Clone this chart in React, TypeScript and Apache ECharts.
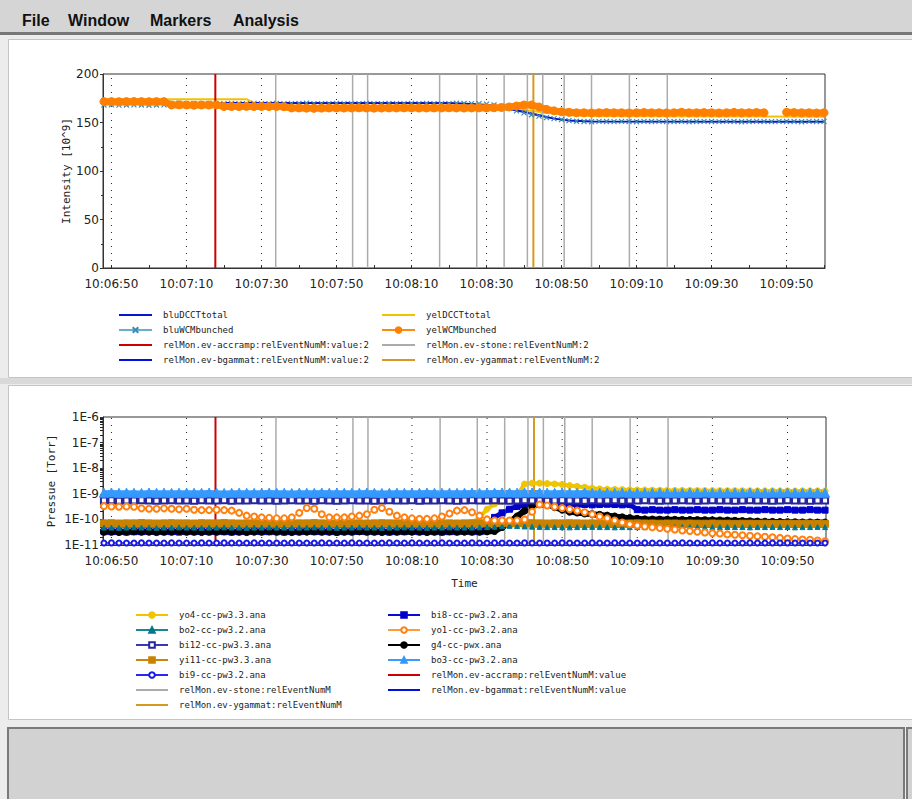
import React, { useEffect, useRef } from 'react';
import * as echarts from 'echarts';

// Time axis: seconds of day (10:06:48 = 36408)
const X_MIN = 36407.75;
const X_MAX = 36600.25;
const T_START = 36408; // first sample, 10:06:48
const T_STEP = 2; // sample spacing in seconds

const labelTimes = [36410, 36430, 36450, 36470, 36490, 36510, 36530, 36550, 36570, 36590];
const tickTimes = [36410, 36420, 36430, 36440, 36450, 36460, 36470, 36480, 36490, 36500,
  36510, 36520, 36530, 36540, 36550, 36560, 36570, 36580, 36590, 36600];

// ---------------- Intensity chart ----------------
const yelWCMbunched: (number | null)[] = [
  171.5, 171.5, 171.4, 171.5, 171.6, 171.5, 171.4, 171.5, 171.5,
  168, 168.2, 168, 167.8, 168, 168, 168.1,
  166.5, 166.5, 166.4, 166.6, 166.5, 166.5, 166.4, 166.5, 166.3,
  165, 165, 164.8, 164.6, 164.8, 165, 165, 164.9, 165, 165.1,
  165, 164.8, 164.9, 165, 165, 165.1, 165, 164.9, 165, 165,
  165, 165.2, 165, 164.9, 165, 165.1, 165, 165.2,
  165.5, 166, 167, 168, 168, 166, 163.5, 162, 161,
  160.5, 160, 160, 159.8, 160, 160.2, 160, 160, 159.8, 160,
  160.3, 160, 160, 159.9, 160, 160.5, 160, 160, 160.2, 160,
  159.8, 160, 160.4, 160, 160, 160.3, 160,
  null, null,
  160.5, 160.2, 160, 160, 159.8, 160,
];

const bluWCMbunched = [
  168, 168.2, 167.9, 168, 168.1, 168, 167.8, 168, 168.2,
  169.5, 169.8, 169.4, 169.6, 169.5, 169.7, 169.3, 169.5, 169.6, 169.4,
  169.5, 169.7, 169.5, 169.3, 169.6, 169.5, 169.4, 169.6, 169.8, 169.5,
  169.4, 169.5, 169.6, 169.5, 169.3, 169.5, 169.7, 169.5, 169.4, 169.6,
  169.5, 169.5, 169.7, 169.4, 169.6, 169.5, 169.3, 169.5, 169.8, 169.6,
  169.4, 169.5,
  169, 168, 166.5, 164.5, 162, 160, 158, 156.5, 155, 154, 153, 152,
  151.3, 151, 150.8, 151.2, 151, 150.9, 151.1, 151, 150.8, 151.2,
  151, 151.1, 150.9, 151, 151.2, 150.8, 151, 151.1, 151, 150.9,
  151.2, 151, 150.8, 151, 151.1, 151, 150.9, 151.2, 151, 151,
  150.8, 151.1, 151, 151.2,
];

const bluDCCTtimes = [36408, 36500, 36506, 36512, 36516, 36520, 36524, 36528, 36532, 36538, 36600];
const bluDCCTvalues = [170, 170, 169, 167, 164, 161, 157.5, 154, 152, 151, 150.8];

const yelDCCTtimes = [36408, 36446, 36450, 36500, 36514, 36520, 36526, 36532, 36540, 36600];
const yelDCCTvalues = [174, 174, 166, 165, 165, 163, 160, 157.5, 156.5, 156];

// event markers (seconds of day)
const accrampTimes = [36437.7];
const bgammatTimes: number[] = [];
const stoneTimes = [36453.8, 36474.3, 36478.3, 36497.5, 36507.4, 36514.7, 36520.9, 36525.0, 36530.7, 36538.0, 36548.1, 36558.2];
const ygammatTimes = [36522.5];

// ---------------- Pressure chart (Torr) ----------------
const bo3 = [
  1.1e-9, 1.12e-9, 1.09e-9, 1.11e-9, 1.1e-9, 1.08e-9, 1.12e-9, 1.1e-9, 1.11e-9, 1.09e-9,
  1.1e-9, 1.11e-9, 1.1e-9, 1.09e-9, 1.12e-9, 1.1e-9, 1.08e-9, 1.1e-9, 1.11e-9, 1.1e-9,
  1.09e-9, 1.1e-9, 1.12e-9, 1.1e-9, 1.1e-9, 1.08e-9, 1.11e-9, 1.1e-9, 1.09e-9, 1.12e-9,
  1.1e-9, 1.1e-9, 1.11e-9, 1.09e-9, 1.1e-9, 1.12e-9, 1.1e-9, 1.08e-9, 1.1e-9, 1.11e-9,
  1.1e-9, 1.09e-9, 1.1e-9, 1.12e-9, 1.1e-9, 1.1e-9, 1.11e-9, 1.09e-9, 1.1e-9, 1.12e-9,
  1.1e-9, 1.11e-9, 1.12e-9, 1.13e-9, 1.12e-9, 1.11e-9, 1.12e-9, 1.13e-9, 1.12e-9, 1.11e-9,
  1.1e-9, 1.12e-9, 1.11e-9, 1.1e-9, 1.12e-9, 1.1e-9, 1.09e-9, 1.11e-9, 1.1e-9, 1.12e-9,
  1.1e-9, 1.09e-9, 1.11e-9, 1.1e-9, 1.12e-9, 1.1e-9, 1.1e-9, 1.09e-9, 1.11e-9, 1.1e-9,
  1.12e-9, 1.1e-9, 1.09e-9, 1.1e-9, 1.11e-9, 1.1e-9, 1.12e-9, 1.1e-9, 1.09e-9, 1.11e-9,
  1.1e-9, 1.12e-9, 1.1e-9, 1.1e-9, 1.11e-9, 1.09e-9, 1.1e-9,
];

const bi12 = [
  5.5e-10, 5.6e-10, 5.4e-10, 5.5e-10, 5.5e-10, 5.6e-10, 5.5e-10, 5.4e-10, 5.5e-10, 5.6e-10,
  5.5e-10, 5.5e-10, 5.4e-10, 5.6e-10, 5.5e-10, 5.5e-10, 5.6e-10, 5.4e-10, 5.5e-10, 5.5e-10,
  5.6e-10, 5.5e-10, 5.5e-10, 5.4e-10, 5.5e-10, 5.6e-10, 5.5e-10, 5.5e-10, 5.4e-10, 5.6e-10,
  5.5e-10, 5.4e-10, 5.5e-10, 5.6e-10, 5.5e-10, 5.5e-10, 5.4e-10, 5.5e-10, 5.6e-10, 5.5e-10,
  5.5e-10, 5.6e-10, 5.4e-10, 5.5e-10, 5.5e-10, 5.6e-10, 5.5e-10, 5.4e-10, 5.5e-10, 5.6e-10,
  5.5e-10, 5.5e-10, 5.6e-10, 5.5e-10, 5.4e-10, 5.5e-10, 5.6e-10, 5.5e-10, 5.5e-10, 5.4e-10,
  5.5e-10, 5.6e-10, 5.5e-10, 5.5e-10, 5.4e-10, 5.6e-10, 5.5e-10, 5.5e-10, 5.6e-10, 5.4e-10,
  5.5e-10, 5.5e-10, 5.6e-10, 5.5e-10, 5.4e-10, 5.5e-10, 5.5e-10, 5.6e-10, 5.5e-10, 5.4e-10,
  5.5e-10, 5.6e-10, 5.5e-10, 5.5e-10, 5.4e-10, 5.5e-10, 5.6e-10, 5.5e-10, 5.5e-10, 5.4e-10,
  5.5e-10, 5.6e-10, 5.5e-10, 5.5e-10, 5.4e-10, 5.5e-10, 5.5e-10,
];

const yi11 = [
  7.0e-11, 7.1e-11, 6.9e-11, 7.0e-11, 7.0e-11, 7.2e-11, 7.0e-11, 6.9e-11, 7.0e-11, 7.1e-11,
  7.0e-11, 7.0e-11, 6.9e-11, 7.1e-11, 7.0e-11, 7.0e-11, 7.2e-11, 7.0e-11, 6.9e-11, 7.0e-11,
  7.1e-11, 7.0e-11, 7.0e-11, 6.9e-11, 7.0e-11, 7.1e-11, 7.0e-11, 7.0e-11, 7.2e-11, 7.0e-11,
  6.9e-11, 7.0e-11, 7.1e-11, 7.0e-11, 7.0e-11, 6.9e-11, 7.0e-11, 7.1e-11, 7.0e-11, 7.0e-11,
  7.2e-11, 7.0e-11, 6.9e-11, 7.0e-11, 7.1e-11, 7.0e-11, 7.0e-11, 6.9e-11, 7.0e-11, 7.1e-11,
  7.0e-11, 7.0e-11, 7.1e-11, 7.0e-11, 6.9e-11, 7.0e-11, 7.0e-11, 7.1e-11, 7.0e-11, 6.9e-11,
  7.0e-11, 7.0e-11, 7.1e-11, 7.0e-11, 6.9e-11, 7.0e-11, 7.0e-11, 6.9e-11, 7.0e-11, 6.9e-11,
  6.9e-11, 7.0e-11, 6.9e-11, 6.9e-11, 6.8e-11, 6.9e-11, 6.9e-11, 6.8e-11, 6.9e-11, 6.8e-11,
  6.8e-11, 6.9e-11, 6.8e-11, 6.8e-11, 6.7e-11, 6.8e-11, 6.8e-11, 6.7e-11, 6.8e-11, 6.7e-11,
  6.7e-11, 6.8e-11, 6.7e-11, 6.7e-11, 6.7e-11, 6.6e-11, 6.7e-11,
];

const bo2 = [
  4.8e-11, 4.8e-11, 4.7e-11, 4.8e-11, 4.9e-11, 4.8e-11, 4.8e-11, 4.7e-11, 4.8e-11, 4.8e-11,
  4.9e-11, 4.8e-11, 4.8e-11, 4.7e-11, 4.8e-11, 4.8e-11, 4.9e-11, 4.8e-11, 4.8e-11, 4.7e-11,
  4.8e-11, 4.8e-11, 4.9e-11, 4.8e-11, 4.8e-11, 4.7e-11, 4.8e-11, 4.8e-11, 4.9e-11, 4.8e-11,
  4.8e-11, 4.7e-11, 4.8e-11, 4.8e-11, 4.9e-11, 4.8e-11, 4.8e-11, 4.7e-11, 4.8e-11, 4.8e-11,
  4.9e-11, 4.8e-11, 4.8e-11, 4.7e-11, 4.8e-11, 4.8e-11, 4.9e-11, 4.8e-11, 4.8e-11, 4.8e-11,
  4.9e-11, 5.0e-11, 5.2e-11, 5.4e-11, 5.6e-11, 5.5e-11, 5.3e-11, 5.2e-11, 5.1e-11, 5.0e-11,
  5.0e-11, 5.0e-11, 4.9e-11, 5.0e-11, 5.0e-11, 5.1e-11, 5.0e-11, 5.0e-11, 4.9e-11, 5.0e-11,
  5.0e-11, 5.1e-11, 5.0e-11, 5.0e-11, 4.9e-11, 5.0e-11, 5.0e-11, 5.1e-11, 5.0e-11, 5.0e-11,
  4.9e-11, 5.0e-11, 5.0e-11, 5.1e-11, 5.0e-11, 5.0e-11, 4.9e-11, 5.0e-11, 5.0e-11, 5.1e-11,
  5.0e-11, 5.0e-11, 4.9e-11, 5.0e-11, 5.0e-11, 5.1e-11, 5.0e-11,
];

const bi9 = [
  1.2e-11, 1.21e-11, 1.19e-11, 1.2e-11, 1.2e-11, 1.21e-11, 1.2e-11, 1.19e-11, 1.2e-11, 1.21e-11,
  1.2e-11, 1.2e-11, 1.19e-11, 1.21e-11, 1.2e-11, 1.2e-11, 1.21e-11, 1.2e-11, 1.19e-11, 1.2e-11,
  1.21e-11, 1.2e-11, 1.2e-11, 1.19e-11, 1.2e-11, 1.21e-11, 1.2e-11, 1.2e-11, 1.19e-11, 1.21e-11,
  1.2e-11, 1.19e-11, 1.2e-11, 1.21e-11, 1.2e-11, 1.2e-11, 1.19e-11, 1.2e-11, 1.21e-11, 1.2e-11,
  1.2e-11, 1.21e-11, 1.19e-11, 1.2e-11, 1.2e-11, 1.21e-11, 1.2e-11, 1.19e-11, 1.2e-11, 1.21e-11,
  1.2e-11, 1.2e-11, 1.21e-11, 1.2e-11, 1.19e-11, 1.2e-11, 1.21e-11, 1.2e-11, 1.2e-11, 1.19e-11,
  1.2e-11, 1.21e-11, 1.2e-11, 1.2e-11, 1.19e-11, 1.21e-11, 1.2e-11, 1.2e-11, 1.21e-11, 1.19e-11,
  1.2e-11, 1.2e-11, 1.21e-11, 1.2e-11, 1.19e-11, 1.2e-11, 1.2e-11, 1.21e-11, 1.2e-11, 1.19e-11,
  1.2e-11, 1.21e-11, 1.2e-11, 1.2e-11, 1.19e-11, 1.2e-11, 1.21e-11, 1.2e-11, 1.2e-11, 1.19e-11,
  1.2e-11, 1.21e-11, 1.2e-11, 1.2e-11, 1.19e-11, 1.2e-11, 1.2e-11,
];

const g4 = [
  3.3e-11, 3.3e-11, 3.2e-11, 3.3e-11, 3.4e-11, 3.3e-11, 3.3e-11, 3.2e-11, 3.3e-11, 3.3e-11,
  3.4e-11, 3.3e-11, 3.3e-11, 3.2e-11, 3.3e-11, 3.3e-11, 3.4e-11, 3.3e-11, 3.3e-11, 3.2e-11,
  3.3e-11, 3.3e-11, 3.4e-11, 3.3e-11, 3.3e-11, 3.2e-11, 3.3e-11, 3.3e-11, 3.4e-11, 3.3e-11,
  3.3e-11, 3.2e-11, 3.3e-11, 3.3e-11, 3.4e-11, 3.3e-11, 3.3e-11, 3.2e-11, 3.3e-11, 3.3e-11,
  3.4e-11, 3.3e-11, 3.3e-11, 3.2e-11, 3.3e-11, 3.3e-11, 3.4e-11, 3.3e-11, 3.3e-11, 3.3e-11,
  3.3e-11, 3.4e-11,
  3.5e-11, 5e-11, 8e-11, 1.3e-10, 2.2e-10, 3.6e-10, 5.5e-10,
  4.0e-10, 3.0e-10, 2.4e-10, 2.0e-10, 1.85e-10, 1.7e-10, 1.6e-10, 1.5e-10, 1.4e-10, 1.3e-10,
  1.2e-10, 1.12e-10, 1.05e-10,
  1.0e-10, 9.9e-11, 9.8e-11, 9.7e-11, 9.6e-11, 9.5e-11, 9.5e-11, 9.4e-11, 9.3e-11, 9.2e-11,
  9.1e-11, 9.0e-11,
  8.8e-11, 8.6e-11, 8.4e-11, 8.2e-11, 8.1e-11, 8.0e-11, 7.9e-11, 7.8e-11, 7.7e-11, 7.6e-11,
  7.6e-11, 7.5e-11, 7.5e-11,
];

const bi8 = [
  3.3e-11, 3.3e-11, 3.3e-11, 3.2e-11, 3.3e-11, 3.3e-11, 3.4e-11, 3.3e-11, 3.3e-11, 3.3e-11,
  3.2e-11, 3.3e-11, 3.3e-11, 3.4e-11, 3.3e-11, 3.3e-11, 3.3e-11, 3.2e-11, 3.3e-11, 3.3e-11,
  3.4e-11, 3.3e-11, 3.3e-11, 3.3e-11, 3.2e-11, 3.3e-11, 3.3e-11, 3.4e-11, 3.3e-11, 3.3e-11,
  3.3e-11, 3.2e-11, 3.3e-11, 3.3e-11, 3.4e-11, 3.3e-11, 3.3e-11, 3.3e-11, 3.2e-11, 3.3e-11,
  3.3e-11, 3.4e-11, 3.3e-11, 3.3e-11, 3.3e-11, 3.2e-11, 3.3e-11, 3.3e-11, 3.4e-11, 3.3e-11,
  3.3e-11,
  6e-11, 1.2e-10, 1.8e-10, 2.5e-10, 3.2e-10, 3.8e-10,
  3.8e-10, 3.9e-10, 3.8e-10, 3.7e-10, 3.8e-10, 3.9e-10, 3.8e-10, 3.8e-10, 3.7e-10, 3.8e-10,
  3.9e-10, 3.8e-10, 3.7e-10, 3.8e-10,
  2.4e-10, 2.3e-10, 2.4e-10, 2.3e-10, 2.3e-10, 2.4e-10, 2.3e-10, 2.3e-10, 2.4e-10, 2.3e-10,
  2.3e-10, 2.4e-10, 2.3e-10, 2.3e-10, 2.4e-10, 2.3e-10, 2.3e-10, 2.4e-10, 2.3e-10, 2.3e-10,
  2.4e-10, 2.3e-10, 2.3e-10, 2.4e-10, 2.3e-10, 2.3e-10,
];

const yo4 = [
  7e-11, 7e-11, 7e-11, 7.1e-11, 7e-11, 7e-11, 6.9e-11, 7e-11, 7e-11, 7.1e-11,
  7e-11, 7e-11, 6.9e-11, 7e-11, 7e-11, 7.1e-11, 7e-11, 7e-11, 6.9e-11, 7e-11,
  7e-11, 7.1e-11, 7e-11, 7e-11, 6.9e-11, 7e-11, 7e-11, 7.1e-11, 7e-11, 7e-11,
  6.9e-11, 7e-11, 7e-11, 7.1e-11, 7e-11, 7e-11, 6.9e-11, 7e-11, 7e-11, 7.1e-11,
  7e-11, 7e-11, 6.9e-11, 7e-11, 7e-11, 7.1e-11, 7e-11, 7e-11, 6.9e-11, 7e-11,
  1.2e-10, 2.5e-10, 4e-10, 5e-10, 6e-10, 9e-10,
  2.4e-9, 2.6e-9, 2.6e-9, 2.5e-9, 2.4e-9, 2.3e-9, 2.1e-9, 1.95e-9, 1.8e-9, 1.65e-9,
  1.55e-9, 1.5e-9, 1.48e-9, 1.45e-9, 1.43e-9, 1.4e-9, 1.4e-9, 1.38e-9, 1.37e-9, 1.36e-9,
  1.35e-9, 1.35e-9, 1.34e-9, 1.34e-9, 1.33e-9, 1.33e-9, 1.32e-9, 1.32e-9, 1.32e-9, 1.31e-9,
  1.31e-9, 1.3e-9, 1.3e-9, 1.3e-9, 1.3e-9, 1.3e-9, 1.29e-9, 1.3e-9, 1.3e-9, 1.3e-9,
  1.3e-9,
];

const yo1 = [
  3.3e-10, 3.2e-10, 3.1e-10, 3.2e-10, 3.1e-10,
  2.7e-10, 2.6e-10, 2.6e-10, 2.7e-10, 2.6e-10, 2.5e-10, 2.6e-10,
  2.4e-10, 2.3e-10, 2.3e-10, 2.4e-10, 2.3e-10, 2.2e-10,
  1.8e-10, 1.4e-10, 1.3e-10,
  1.2e-10, 1.15e-10, 1.1e-10, 1.1e-10, 1.2e-10,
  1.8e-10, 2.8e-10, 2.6e-10, 1.6e-10, 1.2e-10,
  1.2e-10, 1.2e-10, 1.3e-10, 1.4e-10, 1.6e-10,
  2.4e-10, 2.8e-10, 2.0e-10, 1.4e-10, 1.2e-10,
  1.1e-10, 1.05e-10, 1.05e-10, 1.1e-10, 1.3e-10,
  1.7e-10, 2.2e-10, 2.3e-10, 1.9e-10, 1.4e-10,
  1.0e-10, 9e-11, 9e-11, 9e-11, 9e-11, 1.0e-10,
  2.0e-10, 3.8e-10, 3.5e-10, 3.1e-10, 2.8e-10, 2.5e-10, 2.2e-10, 1.9e-10, 1.6e-10, 1.3e-10,
  1.1e-10, 9e-11, 7.5e-11, 6.5e-11, 5.8e-11, 5.3e-11, 4.9e-11, 4.6e-11, 4.3e-11, 4.0e-11,
  3.7e-11, 3.5e-11, 3.3e-11, 3.1e-11, 2.9e-11, 2.8e-11, 2.6e-11, 2.5e-11, 2.4e-11, 2.3e-11,
  2.2e-11, 2.1e-11, 2.0e-11, 1.9e-11, 1.8e-11, 1.7e-11, 1.65e-11, 1.6e-11, 1.5e-11, 1.4e-11,
];

const MONO = '"DejaVu Sans Mono", monospace';
const SANS = '"DejaVu Sans", sans-serif';

const pad = (n: number) => (n < 10 ? '0' + n : '' + n);
const fmtTime = (v: number) => {
  const s = Math.round(v);
  return `${Math.floor(s / 3600)}:${pad(Math.floor((s % 3600) / 60))}:${pad(s % 60)}`;
};
const sampled = (vals: (number | null)[]) => vals.map((v, i) => [T_START + i * T_STEP, v]);
const paired = (ts: number[], vs: number[]) => ts.map((t, i) => [t, vs[i]]);
const vlines = (ts: number[], lo: number, hi: number) =>
  ts.flatMap((t) => [[t, lo], [t, hi], [t, null]]);

// legend entries drawn as a plain line (no symbol)
const lineOnly = (name: string) => ({ name, itemStyle: { opacity: 0 } });

export default function App() {
  const ref = useRef<HTMLDivElement>(null);
  useEffect(() => {
    if (!ref.current) return;
    const chart = echarts.init(ref.current, undefined, { renderer: 'svg' });

    const xAxisBase = (gridIndex: number, name?: string) => ({
      type: 'value',
      gridIndex,
      min: X_MIN,
      max: X_MAX,
      name: name || '',
      nameLocation: 'middle',
      nameGap: 33,
      nameMoveOverlap: false,
      nameTextStyle: { fontFamily: MONO, fontSize: 11, color: '#222' },
      axisLine: { show: true, lineStyle: { color: '#333' } },
      axisTick: { show: true, inside: true, length: 3, customValues: tickTimes, lineStyle: { color: '#333' } },
      axisLabel: { customValues: labelTimes, formatter: fmtTime, fontFamily: SANS, fontSize: 12, color: '#222', margin: 10 },
      splitLine: { show: false },
    });

    const line = (name: string, data: any[], xi: number, opt: any) => ({
      type: 'line',
      name,
      data,
      xAxisIndex: xi,
      yAxisIndex: xi,
      silent: true,
      animation: false,
      emphasis: { disabled: true },
      connectNulls: false,
      symbol: opt.symbol || 'none',
      symbolSize: opt.size || 6,
      showSymbol: !!opt.symbol,
      lineStyle: { color: opt.lineColor || opt.color, width: opt.width || 1.5, type: opt.dash || 'solid' },
      itemStyle: {
        color: opt.color,
        borderColor: opt.color,
        borderWidth: opt.borderWidth ?? 1,
      },
    });

    const dotted = (xi: number, lo: number, hi: number) => ({
      type: 'line',
      name: '__grid' + xi,
      data: vlines(labelTimes, lo, hi),
      xAxisIndex: xi,
      yAxisIndex: xi,
      silent: true,
      symbol: 'none',
      showSymbol: false,
      lineStyle: { color: '#222', width: 1, type: [1, 6] },
    });

    const markerSeries = (suffix: string, xi: number, lo: number, hi: number) => [
      line('relMon.ev-stone:relEventNumM' + suffix, vlines(stoneTimes, lo, hi), xi, { color: '#ababab', width: 1.5 }),
      line('relMon.ev-accramp:relEventNumM' + (suffix ? ':value' + suffix : ':value'), vlines(accrampTimes, lo, hi), xi, { color: '#cc0000', width: 2 }),
      line('relMon.ev-ygammat:relEventNumM' + suffix, vlines(ygammatTimes, lo, hi), xi, { color: '#d49a1e', width: 2 }),
      line('relMon.ev-bgammat:relEventNumM' + (suffix ? ':value' + suffix : ':value'), vlines(bgammatTimes, lo, hi), xi, { color: '#0010e0', width: 2 }),
    ];

    const legendBase = {
      orient: 'vertical',
      itemHeight: 7,
      itemGap: 5,
      padding: 0,
      selectedMode: false,
      textStyle: { fontFamily: MONO, fontSize: 9, color: '#222', lineHeight: 10, padding: [0, 0, 0, 6] },
      lineStyle: { width: 2 },
    };

    const menuText = (text: string, x: number) => ({
      type: 'text',
      z: -50,
      silent: true,
      style: { text, x, y: 20, fill: '#111', fontFamily: '"Liberation Sans", Arial, sans-serif', fontWeight: 'bold', fontSize: 16, verticalAlign: 'middle' },
    });

    const option: any = {
      animation: false,
      graphic: [
        { type: 'rect', z: -100, silent: true, shape: { x: 0, y: 0, width: 912, height: 799 }, style: { fill: '#ececec' } },
        { type: 'rect', z: -99, silent: true, shape: { x: 0, y: 0, width: 912, height: 32 }, style: { fill: '#d5d5d5' } },
        { type: 'rect', z: -99, silent: true, shape: { x: 0, y: 32, width: 912, height: 3 }, style: { fill: '#777777' } },
        { type: 'rect', z: -99, silent: true, shape: { x: 8.5, y: 39.5, width: 905, height: 338 }, style: { fill: '#ffffff', stroke: '#c4c4c4', lineWidth: 1 } },
        { type: 'rect', z: -99, silent: true, shape: { x: 0, y: 378, width: 912, height: 6 }, style: { fill: '#d9d9d9' } },
        { type: 'rect', z: -99, silent: true, shape: { x: 8.5, y: 385.5, width: 905, height: 334 }, style: { fill: '#ffffff', stroke: '#c4c4c4', lineWidth: 1 } },
        { type: 'rect', z: -99, silent: true, shape: { x: 8, y: 728, width: 896, height: 80 }, style: { fill: '#d2d2d2', stroke: '#7a7a7a', lineWidth: 2 } },
        { type: 'rect', z: -99, silent: true, shape: { x: 907, y: 728, width: 12, height: 80 }, style: { fill: '#d2d2d2', stroke: '#7a7a7a', lineWidth: 2 } },
        menuText('File', 22),
        menuText('Window', 68),
        menuText('Markers', 150),
        menuText('Analysis', 233),
      ],
      grid: [
        { left: 103, top: 74, width: 722, height: 194, show: true, borderColor: '#333', borderWidth: 1, backgroundColor: 'transparent' },
        { left: 103, top: 417, width: 723, height: 128, show: true, borderColor: '#333', borderWidth: 1, backgroundColor: 'transparent' },
      ],
      xAxis: [xAxisBase(0), xAxisBase(1, 'Time')],
      yAxis: [
        {
          type: 'value', gridIndex: 0, min: 0, max: 200, interval: 50,
          name: 'Intensity [10^9]', nameLocation: 'middle', nameGap: 31, nameMoveOverlap: false,
          nameTextStyle: { fontFamily: MONO, fontSize: 11, color: '#222' },
          axisLine: { show: true, lineStyle: { color: '#333' } },
          axisTick: { show: true, length: 3, lineStyle: { color: '#333' } },
          minorTick: { show: true, splitNumber: 2, length: 2, lineStyle: { color: '#333' } },
          axisLabel: { fontFamily: SANS, fontSize: 12, color: '#222', margin: 4 },
          splitLine: { show: false },
        },
        {
          type: 'log', logBase: 10, gridIndex: 1, min: 1e-11, max: 1e-6,
          name: 'Pressue [Torr]', nameLocation: 'middle', nameGap: 46, nameMoveOverlap: false,
          nameTextStyle: { fontFamily: MONO, fontSize: 11, color: '#222' },
          axisLine: { show: true, lineStyle: { color: '#333' } },
          axisTick: { show: true, length: 3, lineStyle: { color: '#333' } },
          minorTick: { show: true, splitNumber: 9, length: 3, lineStyle: { color: '#222' } },
          axisLabel: { fontFamily: SANS, fontSize: 12, color: '#222', margin: 4, formatter: (v: number) => '1E' + Math.round(Math.log10(v)) },
          splitLine: { show: false },
        },
      ],
      legend: [
        { ...legendBase, left: 118, top: 310, itemWidth: 33, data: [lineOnly('bluDCCTtotal'), 'bluWCMbunched', lineOnly('relMon.ev-accramp:relEventNumM:value:2'), lineOnly('relMon.ev-bgammat:relEventNumM:value:2')] },
        { ...legendBase, left: 381, top: 310, itemWidth: 33, data: [lineOnly('yelDCCTtotal'), 'yelWCMbunched', lineOnly('relMon.ev-stone:relEventNumM:2'), lineOnly('relMon.ev-ygammat:relEventNumM:2')] },
        { ...legendBase, left: 135, top: 610, itemWidth: 32, data: ['yo4-cc-pw3.3.ana', 'bo2-cc-pw3.2.ana', 'bi12-cc-pw3.3.ana', 'yi11-cc-pw3.3.ana', 'bi9-cc-pw3.2.ana', lineOnly('relMon.ev-stone:relEventNumM'), lineOnly('relMon.ev-ygammat:relEventNumM')] },
        { ...legendBase, left: 387, top: 610, itemWidth: 32, data: ['bi8-cc-pw3.2.ana', 'yo1-cc-pw3.2.ana', 'g4-cc-pwx.ana', 'bo3-cc-pw3.2.ana', lineOnly('relMon.ev-accramp:relEventNumM:value'), lineOnly('relMon.ev-bgammat:relEventNumM:value')] },
      ],
      series: [
        // top chart
        dotted(0, 0, 200),
        line('yelDCCTtotal', paired(yelDCCTtimes, yelDCCTvalues), 0, { color: '#f2c200', width: 2 }),
        line('bluWCMbunched', sampled(bluWCMbunched), 0, { color: '#3a8cb4', lineColor: '#6aaecc', symbol: 'path://M0 0L10 10M10 0L0 10', size: 5, width: 1, borderWidth: 1.2 }),
        line('bluDCCTtotal', paired(bluDCCTtimes, bluDCCTvalues), 0, { color: '#0a14c8', width: 2 }),
        line('yelWCMbunched', sampled(yelWCMbunched), 0, { color: '#ff8000', lineColor: '#ff8a10', symbol: 'circle', size: 8, width: 7 }),
        ...markerSeries(':2', 0, 0, 200),
        // bottom chart
        dotted(1, 1e-11, 1e-6),
        line('bi8-cc-pw3.2.ana', sampled(bi8), 1, { color: '#0000cc', lineColor: '#0a0ad0', symbol: 'rect', size: 6, width: 5 }),
        line('g4-cc-pwx.ana', sampled(g4), 1, { color: '#000000', lineColor: '#000000', symbol: 'circle', size: 7, width: 6 }),
        line('yo4-cc-pw3.3.ana', sampled(yo4), 1, { color: '#efc400', symbol: 'circle', size: 6, width: 4 }),
        line('yi11-cc-pw3.3.ana', sampled(yi11), 1, { color: '#c98200', lineColor: '#cc8606', symbol: 'rect', size: 7, width: 6 }),
        line('bo2-cc-pw3.2.ana', sampled(bo2), 1, { color: '#00788c', lineColor: '#1a8598', symbol: 'triangle', size: 5 }),
        line('bi12-cc-pw3.3.ana', sampled(bi12), 1, { color: '#26269e', lineColor: '#3a3ab0', symbol: 'emptyRect', size: 6, borderWidth: 1.2 }),
        line('bo3-cc-pw3.2.ana', sampled(bo3), 1, { color: '#3399ff', lineColor: '#3a9cff', symbol: 'triangle', size: 9, width: 5 }),
        line('yo1-cc-pw3.2.ana', sampled(yo1), 1, { color: '#ff8010', lineColor: '#ff9a40', symbol: 'emptyCircle', size: 6, borderWidth: 1.2 }),
        line('bi9-cc-pw3.2.ana', sampled(bi9), 1, { color: '#1a1ae6', lineColor: '#2a2aee', symbol: 'emptyCircle', size: 5, borderWidth: 1.2 }),
        ...markerSeries('', 1, 1e-11, 1e-6),
      ],
    };

    chart.setOption(option);
    return () => chart.dispose();
  }, []);

  return <div ref={ref} style={{ position: 'absolute', left: 0, top: 0, width: 912, height: 799 }} />;
}
